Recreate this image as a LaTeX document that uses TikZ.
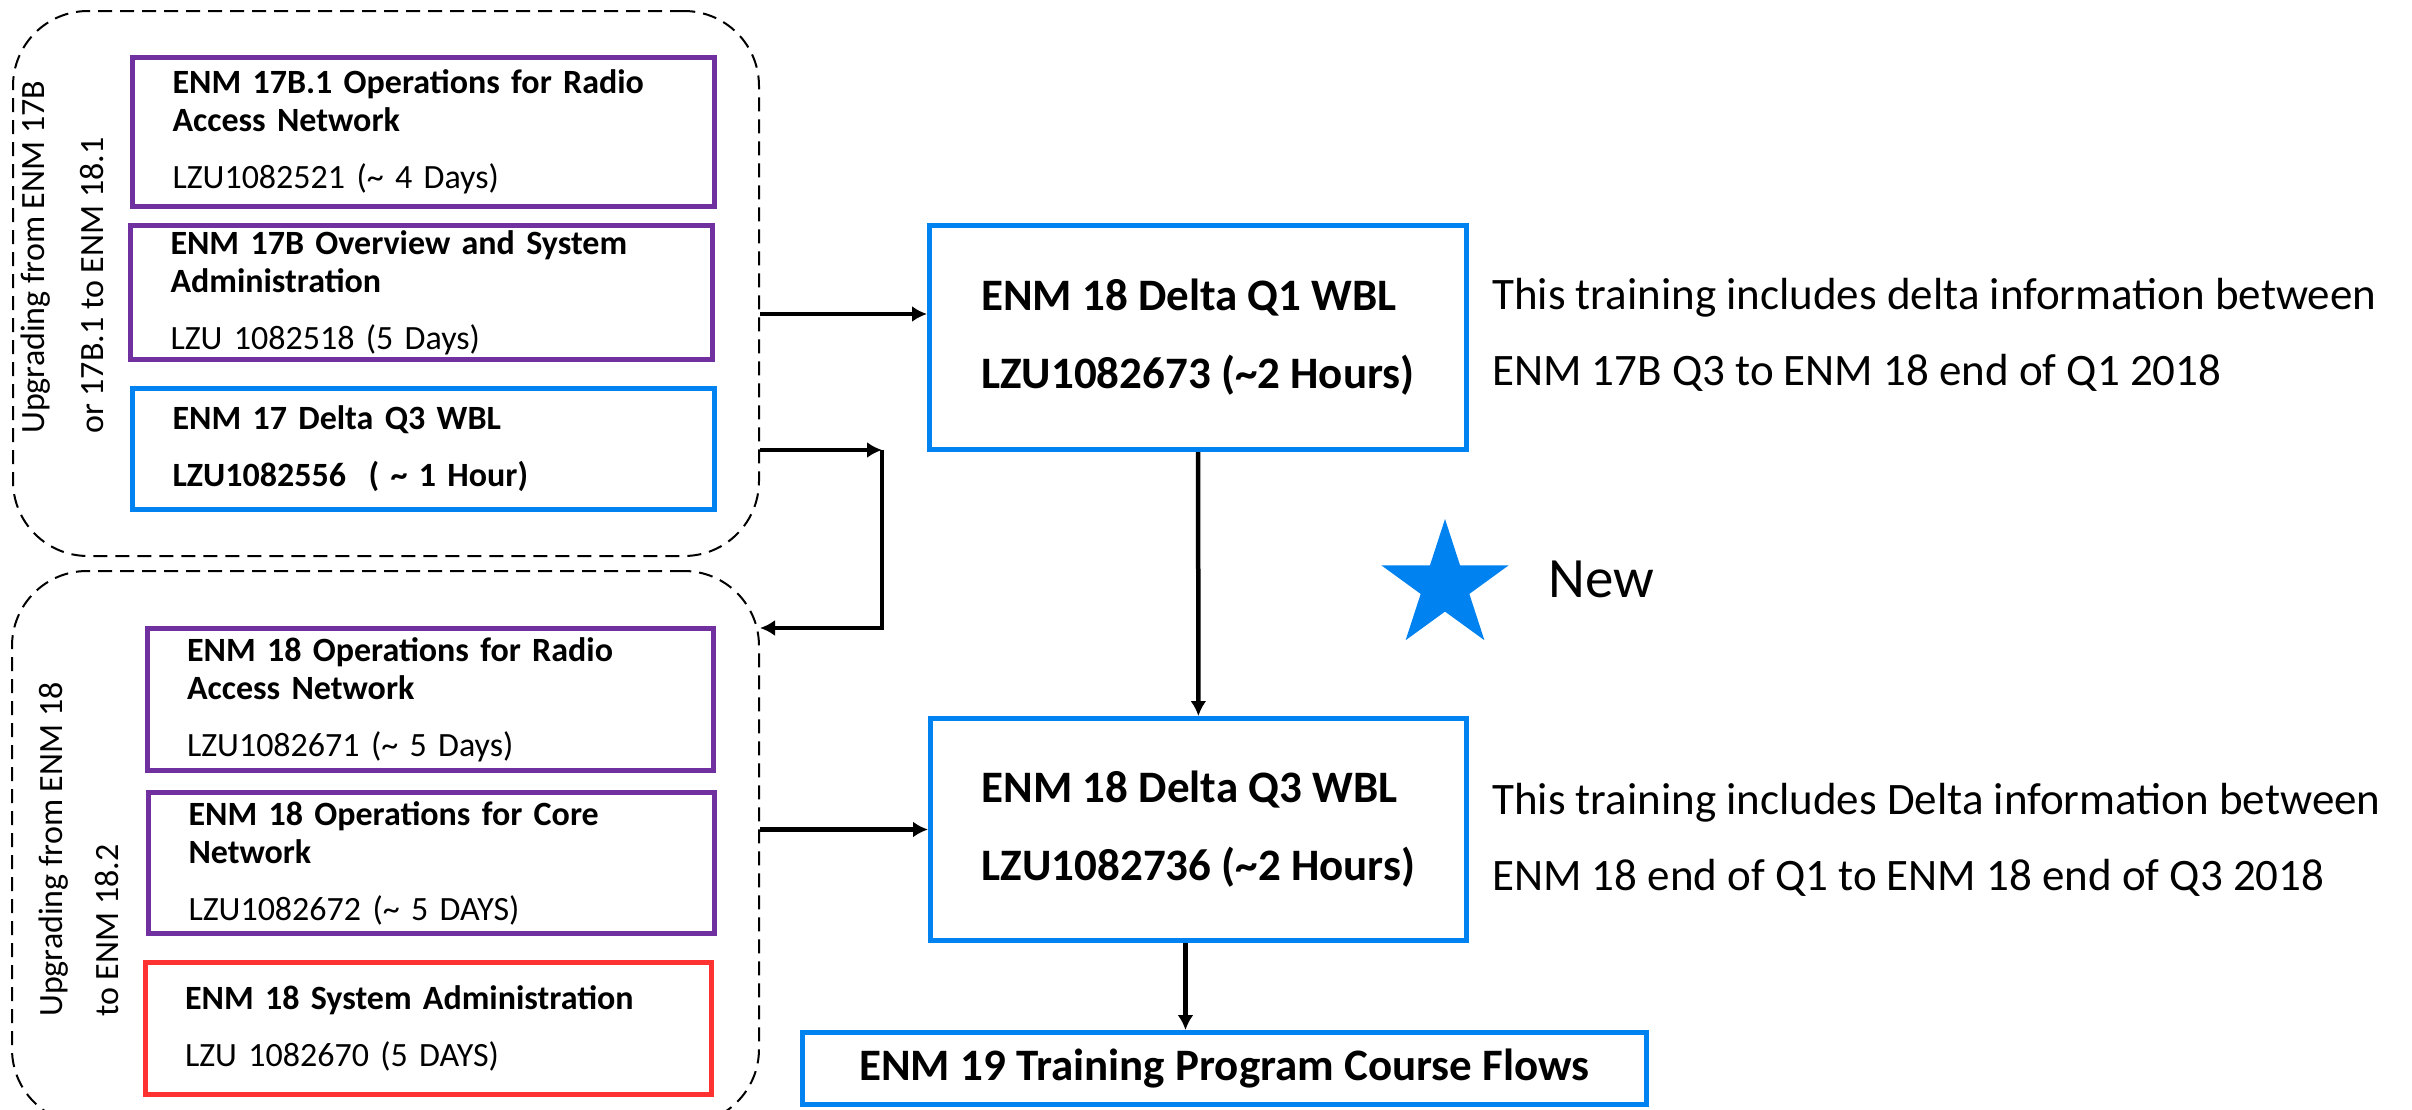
\documentclass[tikz,border=0pt]{standalone}
\usepackage{fontspec}
\setmainfont{Carlito}
\usetikzlibrary{arrows.meta,shapes.geometric}
\definecolor{ericblue}{HTML}{0082F0}
\definecolor{ericpurple}{HTML}{7030A0}
\definecolor{ericred}{HTML}{FF3232}

\def\codegap{19pt}
\def\bend{882}

\begin{document}
\begin{tikzpicture}[x=1pt,y=-1pt,
    flow/.style={-{Latex[length=15pt,width=16pt]},line width=4.5pt},
    group/.style={draw,dash pattern=on 14pt off 8pt,line width=2pt,rounded corners=75pt},
    grouplabel/.style={rotate=90,anchor=west,align=left,inner sep=0pt},
    course/.style={draw,line width=5pt,align=left,inner xsep=40pt,inner ysep=0pt,
                   font=\fontsize{34}{38}\selectfont\bfseries},
    upper/.style={course,minimum width=582pt,text width=502pt},
    lower/.style={course,minimum width=566pt,text width=486pt},
    wbl/.style={draw=ericblue,line width=5pt,align=left,font=\fontsize{45}{78}\selectfont\bfseries},
    note/.style={anchor=base west,align=left,inner sep=0pt,font=\fontsize{45}{76}\selectfont},
]
\useasboundingbox (0,0) rectangle (2412,1109);

\node[group,minimum width=746pt,minimum height=545pt] (grpA) at (386,283.5) {};
\node[group,minimum width=747pt,minimum height=553pt] (grpB) at (385.5,847.5) {};
\node[grouplabel,font=\fontsize{34}{59}\selectfont] (lblA) at (62,434)
     {Upgrading from ENM 17B\\or 17B.1 to ENM 18.1};
\node[grouplabel,font=\fontsize{34}{56}\selectfont] (lblB) at (79,1017)
     {Upgrading from ENM 18\\to ENM 18.2};

\node[upper,draw=ericpurple,minimum height=149pt] (ran17) at (423.5,132)
     {ENM 17B.1 Operations for Radio\\Access Network\\[\codegap]\mdseries LZU1082521 (\textasciitilde{} 4 Days)};
\node[upper,draw=ericpurple,minimum height=134pt] (sys17) at (421.5,292.5)
     {ENM 17B Overview and System\\Administration\\[\codegap]\mdseries LZU 1082518 (5 Days)};
\node[upper,draw=ericblue,minimum height=121pt] (q3old) at (423.5,449)
     {ENM 17 Delta Q3 WBL\\[\codegap]LZU1082556\ \ ( \textasciitilde{} 1 Hour)};
\node[lower,draw=ericpurple,minimum height=142pt] (ran18) at (430,699.5)
     {ENM 18 Operations for Radio\\Access Network\\[\codegap]\mdseries LZU1082671 (\textasciitilde{} 5 Days)};
\node[lower,draw=ericpurple,minimum height=141pt] (core18) at (431.5,863)
     {ENM 18 Operations for Core\\Network\\[\codegap]\mdseries LZU1082672 (\textasciitilde{} 5 DAYS)};
\node[lower,draw=ericred,minimum height=132pt] (sys18) at (428,1028.5)
     {ENM 18 System Administration\\[\codegap]\mdseries LZU 1082670 (5 DAYS)};

\node[wbl,minimum width=537pt,minimum height=224pt] (q1) at (1198,337.5)
     {ENM 18 Delta Q1 WBL\\LZU1082673 (\textasciitilde2 Hours)};
\node[wbl,minimum width=536pt,minimum height=222pt] (q3) at (1198.5,829.5)
     {ENM 18 Delta Q3 WBL\\LZU1082736 (\textasciitilde2 Hours)};
\node[wbl,minimum width=844pt,minimum height=72pt] (flows) at (1224.5,1068.5)
     {ENM 19 Training Program Course Flows};

\node[note] (noteq1) at (1492,385)
     {This training includes delta information between\\ENM 17B Q3 to ENM 18 end of Q1 2018};
\node[note] (noteq3) at (1492,890)
     {This training includes Delta information between\\ENM 18 end of Q1 to ENM 18 end of Q3 2018};

\node[star,star points=5,star point ratio=2.618,minimum size=134pt,inner sep=0pt,fill=ericblue] (star) at (1445,586) {};
\node[anchor=base west,inner sep=0pt,font=\fontsize{57}{68}\selectfont] (new) at (1548,597) {New};

\coordinate (bendA) at (\bend,450);
\coordinate (bendB) at (\bend,628);
\draw[flow] ([yshift=23.5pt]q1.west -| grpA.east) -- ([yshift=23.5pt]q1.west);
\draw[flow] (grpA.east |- bendA) -- (bendA);
\draw[flow] (bendA) -- (bendB) -- (grpB.east |- bendB);
\draw[flow] (grpB.east |- q3) -- (q3);
\draw[flow] (q1) -- (q3);
\draw[flow] ([xshift=-13pt]q3.south) -- ([xshift=-13pt]q3.south |- flows.north);

\end{tikzpicture}
\end{document}
